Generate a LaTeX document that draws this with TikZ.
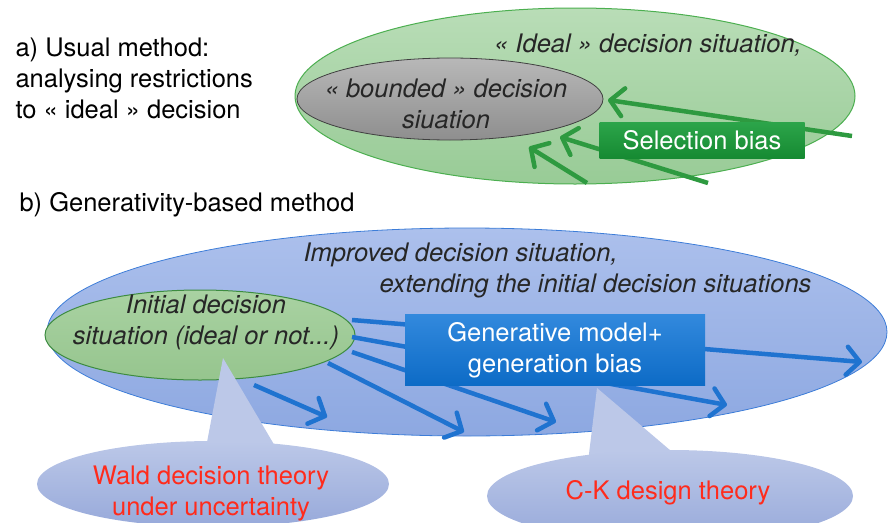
\documentclass[tikz,border=0pt]{standalone}
\usepackage{fontspec}
\setmainfont{TeX Gyre Heros}
\usetikzlibrary{shapes.geometric,arrows.meta,shadings}
\definecolor{gfillT}{HTML}{B9DDB7}
\definecolor{gfillB}{HTML}{98CB96}
\definecolor{gline}{HTML}{4CAF50}
\definecolor{grayT}{HTML}{B8B8B8}
\definecolor{grayB}{HTML}{8E8E8E}
\definecolor{selT}{HTML}{2CA54A}
\definecolor{selB}{HTML}{168A32}
\definecolor{garr}{HTML}{2E9A40}
\definecolor{bfillT}{HTML}{ACC0EC}
\definecolor{bfillB}{HTML}{8DA8E1}
\definecolor{bline}{HTML}{3D7DD8}
\definecolor{ifillT}{HTML}{A9D2A2}
\definecolor{ifillB}{HTML}{96C58E}
\definecolor{genT}{HTML}{3289DD}
\definecolor{genB}{HTML}{0D6BC6}
\definecolor{barr}{HTML}{1F73D0}
\definecolor{callT}{HTML}{BCC8E8}
\definecolor{callB}{HTML}{97A9DA}
\definecolor{redtxt}{HTML}{FF2B1C}
\tikzset{
  every node/.style={font=\fontsize{25.5}{31}\selectfont},
  ell/.style={ellipse, inner sep=0pt},
  garrow/.style={draw=garr, line width=4.5pt, -{Straight Barb[length=13pt,width=28pt,round]}},
  barrow/.style={draw=barr, line width=4.5pt, -{Straight Barb[length=13pt,width=28pt,round]}},
  callfill/.style={fill=callT},
  itxt/.style={font=\fontsize{25.5}{31}\selectfont\itshape, text=black!85},
}
\begin{document}
\begin{tikzpicture}[x=1pt,y=-1pt]
\useasboundingbox (0,0) rectangle (888,522);
\clip (0,0) rectangle (888,522);

% ---------- part a ----------
\node[anchor=west, align=left] (ta) at (12,78) {a) Usual method:\\analysing restrictions\\to « ideal » decision};

\node[ell, minimum width=560pt, minimum height=176pt, draw=gline, line width=1pt,
      top color=gfillT, bottom color=gfillB] (ideal) at (575,96) {};
\node[ell, minimum width=306pt, minimum height=82pt, draw=black!75, line width=0.8pt,
      top color=grayT, bottom color=grayB] (bounded) at (450,99) {};
\node[itxt] (tideal) at (648,45) {« Ideal » decision situation,};
\node[itxt, align=center] (tbounded) at (446,104) {« bounded » decision\\siuation};

\coordinate (g1s) at (852,136); \coordinate (g1e) at (608,100);
\coordinate (g2s) at (708,183); \coordinate (g2e) at (560,137);
\coordinate (g3s) at (587,183); \coordinate (g3e) at (529,147);
\draw[garrow] (g1s) -- (g1e);
\draw[garrow] (g2s) -- (g2e);
\draw[garrow] (g3s) -- (g3e);

\node[minimum width=205pt, minimum height=36pt, inner sep=0pt, top color=selT, bottom color=selB,
      text=white] (sel) at (702,140) {Selection bias};

% ---------- part b ----------
\node[anchor=west] (tb) at (16,205) {b) Generativity-based method};

\node[ell, minimum width=840pt, minimum height=208pt, draw=bline, line width=0.8pt,
      top color=bfillT, bottom color=bfillB] (improved) at (467,332) {};
\node[itxt, anchor=west] (timp1) at (300,255) {Improved decision situation,};
\node[itxt, anchor=west] (timp2) at (376,286) {extending the initial decision situations};

\node[ell, minimum width=310pt, minimum height=90pt, draw=gline!80!black, line width=1pt,
      top color=ifillT, bottom color=ifillB] (initial) at (200,335) {};
\node[itxt, align=center] (tinit) at (206,322) {Initial decision\\situation (ideal or not...)};

\coordinate (b1s) at (352,320); \coordinate (b1e) at (862,362);
\coordinate (b2s) at (352,337); \coordinate (b2e) at (727,405);
\coordinate (b3s) at (352,352); \coordinate (b3e) at (556,422);
\coordinate (b4s) at (328,363); \coordinate (b4e) at (464,432);
\coordinate (b5s) at (254,385); \coordinate (b5e) at (327,417);
\draw[barrow] (b1s) -- (b1e);
\draw[barrow] (b2s) -- (b2e);
\draw[barrow] (b3s) -- (b3e);
\draw[barrow] (b4s) -- (b4e);
\draw[barrow] (b5s) -- (b5e);

\node[minimum width=300pt, minimum height=71pt, inner sep=0pt, top color=genT, bottom color=genB,
      text=white, align=center] (gen) at (555,350) {Generative model+\\generation bias};

% ---------- callouts ----------
\coordinate (wtip) at (223,358);
\coordinate (ctip) at (597,388);
\fill[callfill] (wtip) -- (204,458) -- (282,458) -- cycle;
\fill[callfill] (ctip) -- (588,462) -- (684,462) -- cycle;
\node[ell, minimum width=352pt, minimum height=86pt, top color=callT, bottom color=callB] (wald) at (213,484) {};
\node[ell, minimum width=366pt, minimum height=92pt, top color=callT, bottom color=callB] (ck) at (670,496) {};
\node[text=redtxt, align=center] (twald) at (211,493) {Wald decision theory\\under uncertainty};
\node[text=redtxt] (tck) at (668,493) {C-K design theory};
\end{tikzpicture}
\end{document}
